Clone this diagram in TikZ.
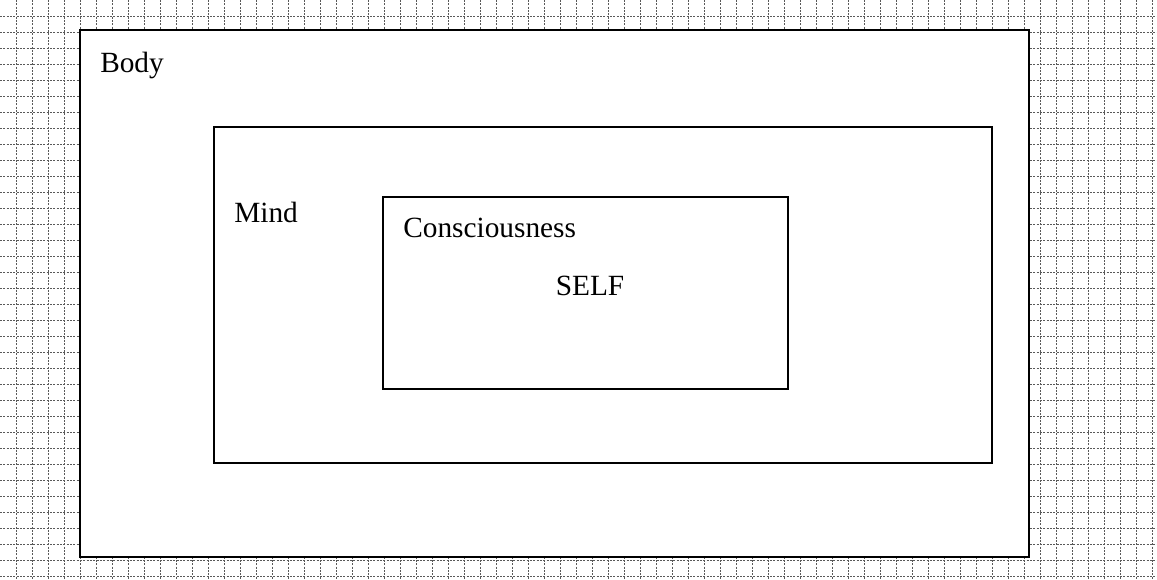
\documentclass[tikz,border=0pt]{standalone}
\usepackage{fontspec}
\setmainfont{Liberation Serif}
\begin{document}
\begin{tikzpicture}[x=0.75pt,y=-0.75pt,
  gridline/.style={draw=black!65,line width=0.75pt,dash pattern=on 1.5pt off 1pt},
  boxframe/.style={draw=black,line width=1.5pt,fill=white},
  lbl/.style={font=\fontsize{22}{24}\selectfont,inner sep=0pt,anchor=base west}]
\useasboundingbox (0,0) rectangle (1157,580);
\foreach \k in {0,...,71} \draw[gridline] ({16.7+16*\k},0) -- ({16.7+16*\k},580);
\foreach \k in {0,...,35} \draw[gridline] (0,{16.7+16*\k}) -- (1157,{16.7+16*\k});
\draw[boxframe] (80,30) rectangle (1029,557);
\draw[boxframe] (214,127) rectangle (992,463);
\draw[boxframe] (383,197) rectangle (788,389);
\node[lbl] (body) at (100,73) {Body};
\node[lbl] (mind) at (234,223) {Mind};
\node[lbl] (cons) at (403,238) {Consciousness};
\node[lbl,anchor=base] (self) at (590,296) {SELF};
\end{tikzpicture}
\end{document}
